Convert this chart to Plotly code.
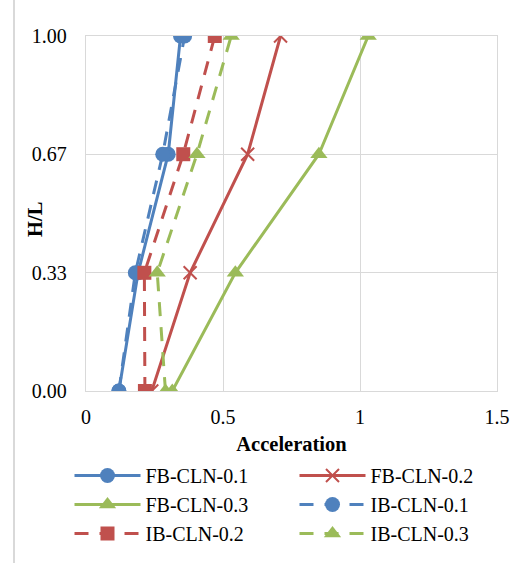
import plotly.graph_objects as go

# Normalised height H/L at which acceleration was sampled
hl = [0.0, 0.333, 0.667, 1.0]

# Peak accelerations per case
fb_cln_01 = [0.12, 0.19, 0.30, 0.345]
fb_cln_02 = [0.24, 0.38, 0.59, 0.71]
fb_cln_03 = [0.315, 0.545, 0.85, 1.03]
ib_cln_01 = [0.12, 0.18, 0.28, 0.36]
ib_cln_02 = [0.215, 0.213, 0.355, 0.47]
ib_cln_03 = [0.29, 0.26, 0.405, 0.53]

x_ticks = [0, 0.5, 1, 1.5]
x_tick_text = ["0", "0.5", "1", "1.5"]
y_ticks = [0.0, 0.333, 0.667, 1.0]
y_tick_text = ["0.00", "0.33", "0.67", "1.00"]

BLUE = "#4F81BD"
RED = "#C0504D"
GREEN = "#9BBB59"
FONT = "Liberation Serif, Times New Roman, serif"
DASH = "14px,11px"

W, H = 529, 563
ML, MR, MT, MB = 86, 32, 36, 172
PW, PH = W - ML - MR, H - MT - MB

series = [
    ("FB-CLN-0.1", fb_cln_01, BLUE, "solid", "circle", 15),
    ("FB-CLN-0.2", fb_cln_02, RED, "solid", "x-thin", 13),
    ("FB-CLN-0.3", fb_cln_03, GREEN, "solid", "triangle-up", 15),
    ("IB-CLN-0.1", ib_cln_01, BLUE, DASH, "circle", 15),
    ("IB-CLN-0.2", ib_cln_02, RED, DASH, "square", 14),
    ("IB-CLN-0.3", ib_cln_03, GREEN, DASH, "triangle-up", 15),
]

fig = go.Figure()
for name, vals, color, dash, symbol, size in series:
    marker = dict(symbol=symbol, size=size, color=color)
    if symbol == "x-thin":
        marker["line"] = dict(color=color, width=2)
    fig.add_trace(go.Scatter(
        x=vals, y=hl, name=name, mode="lines+markers",
        line=dict(color=color, width=3, dash=dash),
        marker=marker,
    ))

grid = "#D9D9D9"
fig.update_layout(
    width=W, height=H,
    margin=dict(l=ML, r=MR, t=MT, b=MB, autoexpand=False),
    paper_bgcolor="white", plot_bgcolor="white",
    font=dict(family=FONT, size=20, color="black"),
    xaxis=dict(
        range=[0, 1.5], tickvals=x_ticks, ticktext=x_tick_text,
        showgrid=True, gridcolor=grid, gridwidth=1.3, zeroline=False,
        showline=True, linecolor=grid, linewidth=1.3, mirror=True,
        ticks="", ticklabelstandoff=8, automargin=False,
        title=dict(text="<b>Acceleration</b>", font=dict(size=20.5), standoff=9),
    ),
    yaxis=dict(
        range=[0, 1], tickvals=y_ticks, ticktext=y_tick_text,
        showgrid=True, gridcolor=grid, gridwidth=1.3, zeroline=False,
        showline=True, linecolor=grid, linewidth=1.3, mirror=True,
        ticks="", ticklabelstandoff=14, automargin=False,
    ),
    legend=dict(
        orientation="h",
        x=(69.5 - ML) / PW, xanchor="left",
        y=(H - MB - 456) / PH, yanchor="top",
        itemwidth=66, entrywidth=144, entrywidthmode="pixels",
        font=dict(size=20), tracegroupgap=0,
        bgcolor="rgba(0,0,0,0)",
    ),
    showlegend=True,
)

# Vertical axis title, set inside the tick-label column
fig.add_annotation(
    text="<b>H/L</b>", textangle=-90, showarrow=False,
    xref="paper", yref="paper", x=(35 - ML) / PW, y=(H - MB - 220) / PH,
    xanchor="center", yanchor="middle", font=dict(size=20.5),
)

# Outer chart frame edge on the left side
fig.add_shape(type="line", xref="paper", yref="paper",
              x0=(14 - ML) / PW, x1=(14 - ML) / PW, y0=-MB / PH, y1=(H - MB) / PH,
              line=dict(color="#D9D9D9", width=2))

fig.write_html("out.html")
